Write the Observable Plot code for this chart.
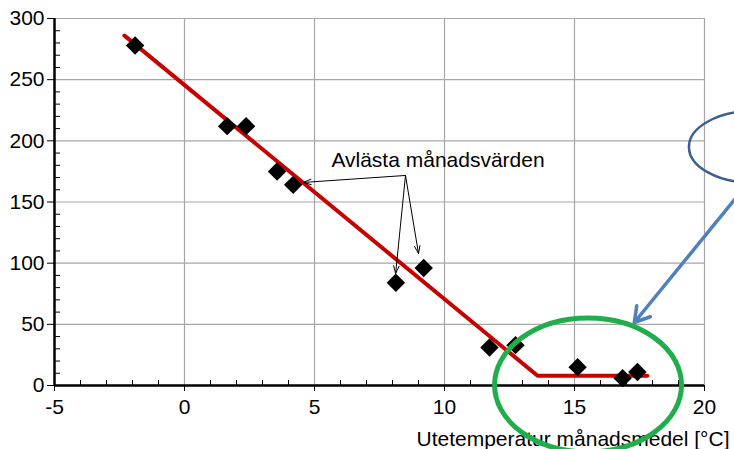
<!DOCTYPE html>
<html>
<head>
<meta charset="utf-8">
<script src="https://cdn.jsdelivr.net/npm/d3@7"></script>
<script src="https://cdn.jsdelivr.net/npm/@observablehq/plot@0.6"></script>
<style>
  html, body { margin: 0; padding: 0; background: #fff; }
  #chart { width: 734px; height: 449px; overflow: hidden; }
</style>
</head>
<body>
<div id="chart"></div>
<script>
// Monthly readings (outdoor monthly mean temperature vs. value)
const temps  = [-1.9, 1.64, 2.37, 3.56, 4.18, 8.13, 9.2, 11.73, 12.73, 15.12, 16.85, 17.42];
const values = [278, 212, 212, 175, 164, 84, 96, 31, 33, 15, 6, 11];

// Fitted piecewise line (red)
const fitX = [-2.31, 13.58, 17.8];
const fitY = [286, 8, 8];

// Axis ticks
const xMajor = [-5, 0, 5, 10, 15, 20];
const yMajor = [0, 50, 100, 150, 200, 250, 300];
const xMinor = d3.range(-4, 20).filter(v => v % 5 !== 0);
const yMinor = d3.range(10, 300, 10).filter(v => v % 50 !== 0);

// Annotation
const noteText = "Avlästa månadsvärden";
const noteX = 5.65, noteY = 184.5;
const noteArrows = [
  {x1: 8.5, y1: 171.7, x2: 4.58, y2: 166},
  {x1: 8.5, y1: 171.7, x2: 8.12, y2: 91.6},
  {x1: 8.5, y1: 171.7, x2: 9.0,  y2: 107.9}
];
const blueArrow = [{x1: 21.6, y1: 163.5, x2: 17.3, y2: 51.5}];
const xLabel = "Utetemperatur månadsmedel [°C]";

const points = temps.map((t, i) => ({t, v: values[i]}));
const fit = fitX.map((t, i) => ({t, v: fitY[i]}));

// Ellipse highlights: centre in data units, radii in pixels
const ellipses = [
  {cx: 21.92, cy: 194.6, rx: 65, ry: 36, stroke: "#3b5f8e", sw: 2.5},
  {cx: 15.54, cy: 0, rx: 93.5, ry: 67, stroke: "#1fae4b", sw: 5}
];

function ellipseMark(list) {
  return (index, scales) => {
    const g = d3.create("svg:g");
    for (const e of list) {
      g.append("ellipse")
        .attr("cx", scales.x(e.cx))
        .attr("cy", scales.y(e.cy))
        .attr("rx", e.rx)
        .attr("ry", e.ry)
        .attr("fill", "none")
        .attr("stroke", e.stroke)
        .attr("stroke-width", e.sw);
    }
    return g.node();
  };
}

const plot = Plot.plot({
  width: 734,
  height: 449,
  marginLeft: 54,
  marginRight: 30,
  marginTop: 18,
  marginBottom: 64,
  x: {domain: [-5, 20]},
  y: {domain: [0, 300]},
  style: {
    fontFamily: "'Liberation Sans', Arial, sans-serif",
    fontSize: "21px",
    color: "#000",
    background: "#fff",
    overflow: "visible"
  },
  marks: [
    Plot.gridX(xMajor.filter(v => v > -5), {stroke: "#a6a6a6", strokeOpacity: 1, strokeWidth: 1.2}),
    Plot.gridY(yMajor.filter(v => v > 0), {stroke: "#a6a6a6", strokeOpacity: 1, strokeWidth: 1.2}),
    Plot.tickX(xMinor, {x: d => d, insetTop: 362, stroke: "#000"}),
    Plot.tickY(yMinor, {y: d => d, insetRight: 644, stroke: "#000"}),
    Plot.axisX({ticks: xMajor, tickSize: 6, tickPadding: 8, label: null, tickFormat: d => String(d), fontSize: 21}),
    Plot.axisY({ticks: yMajor, tickSize: 7, tickPadding: 3, label: null, tickFormat: d => String(d), fontSize: 21}),
    Plot.ruleX([-5], {stroke: "#000", strokeWidth: 2.5}),
    Plot.ruleY([0], {stroke: "#000", strokeWidth: 2.5}),
    Plot.line(fit, {x: "t", y: "v", stroke: "#c80000", strokeWidth: 4}),
    Plot.dot(points, {x: "t", y: "v", symbol: "diamond2", r: 8.3, fill: "#000", stroke: "none"}),
    Plot.arrow(noteArrows, {x1: "x1", y1: "y1", x2: "x2", y2: "y2", stroke: "#000", strokeWidth: 1, headLength: 12, headAngle: 40}),
    Plot.text([noteText], {x: noteX, y: noteY, text: d => d, textAnchor: "start", lineAnchor: "middle", fontSize: 21, fill: "#000"}),
    Plot.text([xLabel], {frameAnchor: "bottom-right", text: d => d, textAnchor: "end", lineAnchor: "bottom", dx: 25, dy: 60, fontSize: 21, fill: "#000"}),
    Plot.arrow(blueArrow, {x1: "x1", y1: "y1", x2: "x2", y2: "y2", stroke: "#4f81bd", strokeWidth: 3.5, headLength: 7.3, headAngle: 62}),
    ellipseMark(ellipses)
  ]
});

document.getElementById("chart").appendChild(plot);
</script>
</body>
</html>
